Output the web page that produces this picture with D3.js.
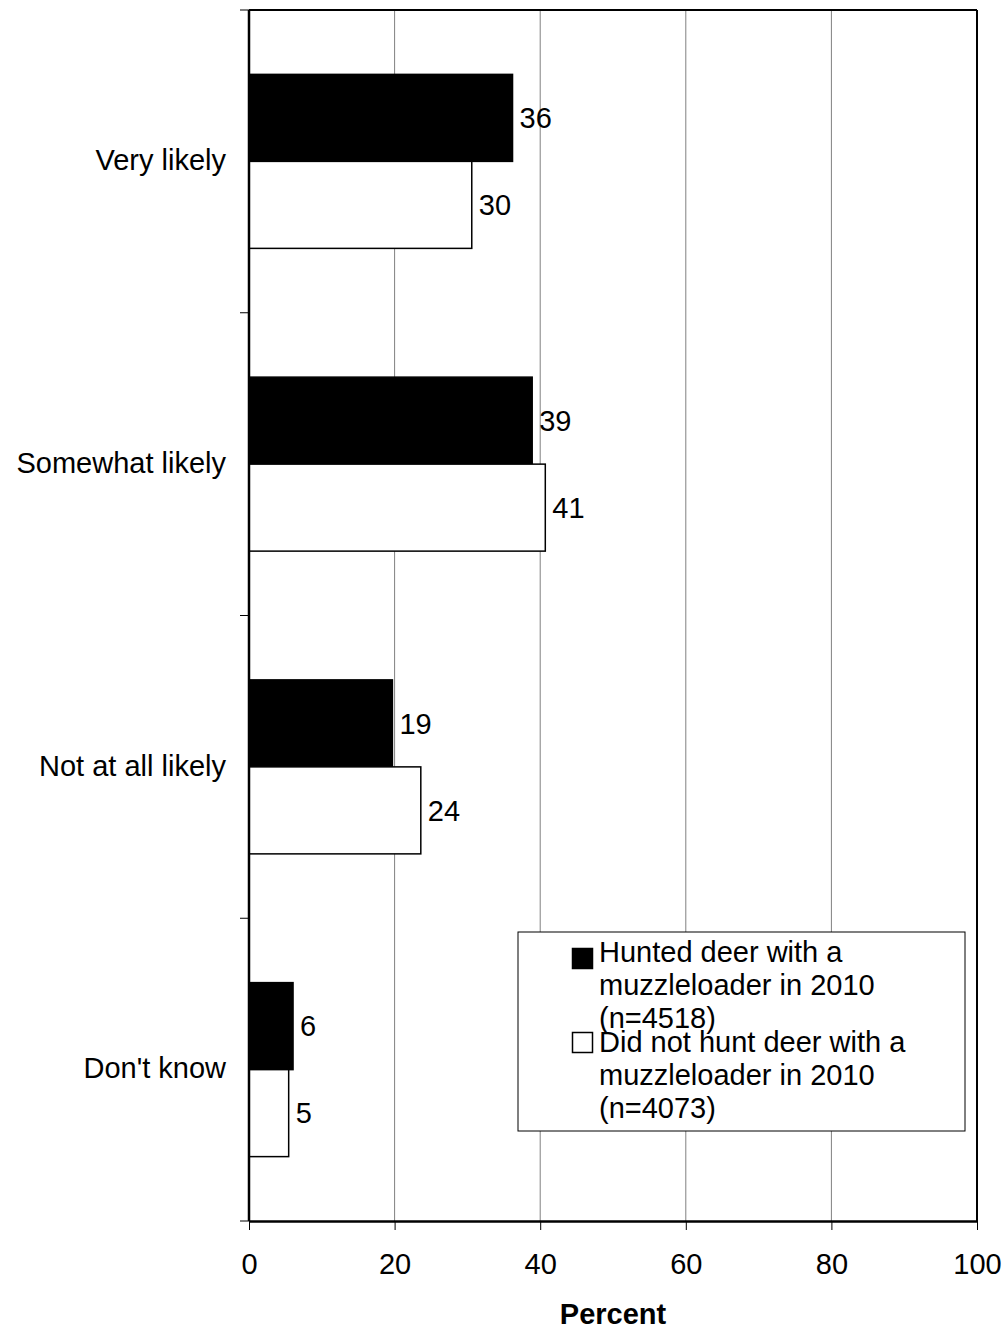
<!DOCTYPE html>
<html>
<head>
<meta charset="utf-8">
<script src="https://cdn.jsdelivr.net/npm/d3@7"></script>
<style>
  html, body { margin: 0; padding: 0; background: #fff; }
  svg { display: block; }
  text { font-family: "Liberation Sans", Arial, sans-serif; fill: #000; }
</style>
</head>
<body>
<svg id="chart" width="1008" height="1330"></svg>
<script>
// ---- data ----
const categories = ["Very likely", "Somewhat likely", "Not at all likely", "Don't know"];
const seriesNames = [
  ["Hunted deer with a", "muzzleloader in 2010", "(n=4518)"],
  ["Did not hunt deer with a", "muzzleloader in 2010", "(n=4073)"]
];
const huntedValues = [36.2, 38.9, 19.7, 6.05];
const notHuntedValues = [30.6, 40.7, 23.6, 5.45];
const huntedLabels = ["36", "39", "19", "6"];
const notHuntedLabels = ["30", "41", "24", "5"];
const xTicks = [0, 20, 40, 60, 80, 100];
const xTitle = "Percent";

// ---- layout ----
const svg = d3.select("#chart");
const pLeft = 249, pRight = 977, pTop = 10, pBottom = 1221;
const FS = 29;

const x = d3.scaleLinear().domain([0, 100]).range([pLeft, pRight]);
const y = d3.scaleBand().domain(categories).range([pTop, pBottom]).padding(0);
const ySub = d3.scaleBand().domain([0, 1]).range([0, y.bandwidth()]).paddingInner(0).paddingOuter(0.74);

const series = [
  { values: huntedValues, labels: huntedLabels, fill: "#000" },
  { values: notHuntedValues, labels: notHuntedLabels, fill: "#fff" }
];

// gridlines
svg.append("g").selectAll("line")
  .data(xTicks.filter(d => d > 0 && d < 100))
  .join("line")
  .attr("x1", d => x(d)).attr("x2", d => x(d))
  .attr("y1", pTop).attr("y2", pBottom)
  .attr("stroke", "#808080").attr("stroke-width", 1);

// bars
series.forEach((s, si) => {
  const g = svg.append("g");
  g.selectAll("rect")
    .data(categories)
    .join("rect")
    .attr("x", x(0))
    .attr("y", c => y(c) + ySub(si))
    .attr("width", (c, i) => x(s.values[i]) - x(0))
    .attr("height", ySub.bandwidth())
    .attr("fill", s.fill)
    .attr("stroke", "#000")
    .attr("stroke-width", 1.5);
  g.selectAll("text")
    .data(categories)
    .join("text")
    .attr("x", (c, i) => x(s.values[i]) + 7)
    .attr("y", c => y(c) + ySub(si) + ySub.bandwidth() / 2)
    .attr("dy", "0.35em")
    .attr("font-size", FS)
    .text((c, i) => s.labels[i]);
});

// plot border (top & right)
svg.append("line").attr("x1", pLeft).attr("x2", pRight).attr("y1", pTop).attr("y2", pTop)
  .attr("stroke", "#000").attr("stroke-width", 2);
svg.append("line").attr("x1", pRight).attr("x2", pRight).attr("y1", pTop).attr("y2", pBottom)
  .attr("stroke", "#000").attr("stroke-width", 2);

// x axis
const xAxis = svg.append("g")
  .attr("transform", `translate(0,${pBottom})`)
  .call(d3.axisBottom(x).tickValues(xTicks).tickSize(9).tickPadding(23.5).tickSizeOuter(0));
xAxis.select(".domain").attr("stroke", "#000").attr("stroke-width", 2.5);
xAxis.selectAll(".tick line").attr("stroke", "#000").attr("stroke-width", 1);
xAxis.selectAll(".tick text").attr("font-size", FS).attr("font-family", "Liberation Sans, Arial, sans-serif").attr("fill", "#000");

// y axis line and boundary ticks
const yBounds = categories.map(c => y(c)).concat([pBottom]);
svg.append("line").attr("x1", pLeft).attr("x2", pLeft).attr("y1", pTop).attr("y2", pBottom)
  .attr("stroke", "#000").attr("stroke-width", 2.5);
svg.append("g").selectAll("line").data(yBounds).join("line")
  .attr("x1", pLeft - 9).attr("x2", pLeft).attr("y1", d => d).attr("y2", d => d)
  .attr("stroke", "#000").attr("stroke-width", 1);

// category labels
svg.append("g").selectAll("text").data(categories).join("text")
  .attr("x", 226)
  .attr("y", c => y(c) + y.bandwidth() / 2)
  .attr("dy", "0.3em")
  .attr("text-anchor", "end")
  .attr("font-size", FS)
  .text(c => c);

// x title
svg.append("text")
  .attr("x", (pLeft + pRight) / 2)
  .attr("y", 1324)
  .attr("text-anchor", "middle")
  .attr("font-size", FS)
  .attr("font-weight", "bold")
  .text(xTitle);

// legend
const lg = svg.append("g");
lg.append("rect").attr("x", 518).attr("y", 932).attr("width", 447).attr("height", 199)
  .attr("fill", "#fff").attr("stroke", "#000").attr("stroke-width", 1);
const entryBase = [962, 1052];
const lineH = 33;
series.forEach((s, si) => {
  lg.append("rect")
    .attr("x", 572.5).attr("y", entryBase[si] - 13.5 - (si === 1 ? 6 : 0))
    .attr("width", 20).attr("height", 20)
    .attr("fill", s.fill).attr("stroke", "#000").attr("stroke-width", 1.5);
  seriesNames[si].forEach((line, li) => {
    lg.append("text")
      .attr("x", 599)
      .attr("y", entryBase[si] + li * lineH)
      .attr("font-size", FS)
      .text(line);
  });
});
</script>
</body>
</html>
